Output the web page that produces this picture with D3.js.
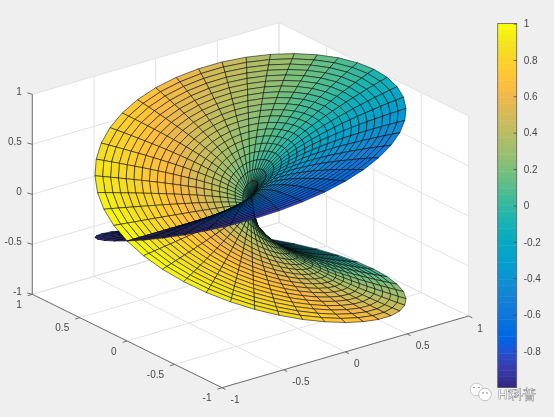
<!DOCTYPE html>
<html>
<head>
<meta charset="utf-8">
<style>
html,body{margin:0;padding:0;background:#efefef;}
svg{display:block;filter:blur(.35px);}
text{font-family:"Liberation Sans",Arial,sans-serif;}
</style>
<script src="https://cdn.jsdelivr.net/npm/d3@7"></script>
</head>
<body>
<script>
// Mesh: 21 rings, 81 spokes over two turns.
const ringRadius = [0,.05,.1,.15,.2,.25,.3,.35,.4,.45,.5,.55,.6,.65,.7,.75,.8,.85,.9,.95,1];
const ringProfile = [0,.224,.316,.387,.447,.5,.548,.592,.632,.671,.707,.742,.775,.806,.837,.866,.894,.922,.949,.975,1];
const spokeAngle = [-360,-351,-342,-333,-324,-315,-306,-297,-288,-279,-270,-261,-252,-243,-234,-225,-216,-207,-198,-189,
  -180,-171,-162,-153,-144,-135,-126,-117,-108,-99,-90,-81,-72,-63,-54,-45,-36,-27,-18,-9,
  0,9,18,27,36,45,54,63,72,81,90,99,108,117,126,135,144,153,162,171,
  180,189,198,207,216,225,234,243,252,261,270,279,288,297,306,315,324,333,342,351,360];
const rimHeight = [-1,-.997,-.988,-.972,-.951,-.924,-.891,-.853,-.809,-.76,-.707,-.649,-.588,-.522,-.454,-.383,-.309,-.233,-.156,-.078,
  0,.078,.156,.233,.309,.383,.454,.522,.588,.649,.707,.76,.809,.853,.891,.924,.951,.972,.988,.997,
  1,.997,.988,.972,.951,.924,.891,.853,.809,.76,.707,.649,.588,.522,.454,.383,.309,.233,.156,.078,
  0,-.078,-.156,-.233,-.309,-.383,-.454,-.522,-.588,-.649,-.707,-.76,-.809,-.853,-.891,-.924,-.951,-.972,-.988,-.997,-1];
const rimColor = [0,-.078,-.156,-.233,-.309,-.383,-.454,-.522,-.588,-.649,-.707,-.76,-.809,-.853,-.891,-.924,-.951,-.972,-.988,-.997,
  -1,-.997,-.988,-.972,-.951,-.924,-.891,-.853,-.809,-.76,-.707,-.649,-.588,-.522,-.454,-.383,-.309,-.233,-.156,-.078,
  0,.078,.156,.233,.309,.383,.454,.522,.588,.649,.707,.76,.809,.853,.891,.924,.951,.972,.988,.997,
  1,.997,.988,.972,.951,.924,.891,.853,.809,.76,.707,.649,.588,.522,.454,.383,.309,.233,.156,.078,0];
const xTicks = [-1,-.5,0,.5,1];
const yTicks = [-1,-.5,0,.5,1];
const zTicks = [-1,-.5,0,.5,1];
const colorbarTicks = [-.8,-.6,-.4,-.2,0,.2,.4,.6,.8,1];
const parula = [[.2081,.1663,.5292],[.2116,.1898,.5777],[.2123,.2138,.627],[.2081,.2386,.6771],[.1959,.2645,.7279],[.1707,.2919,.7792],[.1253,.3242,.8303],[.0591,.3598,.8683],[.0117,.3875,.882],[.006,.4086,.8828],[.0165,.4266,.8786],[.0329,.443,.872],[.0498,.4586,.8641],[.0629,.4737,.8554],[.0723,.4887,.8467],[.0779,.504,.8384],[.0793,.52,.8312],[.0749,.5375,.8263],[.0641,.557,.824],[.0488,.5772,.8228],[.0343,.5966,.8199],[.0265,.6137,.8135],[.0239,.6287,.8038],[.0231,.6418,.7913],[.0228,.6535,.7768],[.0267,.6642,.7607],[.0384,.6743,.7436],[.059,.6838,.7254],[.0843,.6928,.7062],[.1133,.7015,.6859],[.1453,.7098,.6646],[.1801,.7177,.6424],[.2178,.725,.6193],[.2586,.7317,.5954],[.3022,.7376,.5712],[.3482,.7424,.5473],[.3953,.7459,.5244],[.442,.7481,.5033],[.4871,.7491,.484],[.53,.7491,.4661],[.5709,.7485,.4494],[.6099,.7473,.4337],[.6473,.7456,.4188],[.6834,.7435,.4044],[.7184,.7411,.3905],[.7525,.7384,.3768],[.7858,.7356,.3633],[.8185,.7327,.3498],[.8507,.7299,.336],[.8824,.7274,.3217],[.9139,.7258,.3063],[.945,.7261,.2886],[.9739,.7314,.2666],[.9938,.7455,.2403],[.999,.7653,.2164],[.9955,.7861,.1967],[.988,.8066,.1794],[.9789,.8271,.1633],[.9697,.8481,.1475],[.9626,.8705,.1309],[.9589,.8949,.1132],[.9598,.9218,.0948],[.9661,.9514,.0755],[.9763,.9831,.0538]];

const W = 554, H = 417;
const svg = d3.select("body").append("svg").attr("width", W).attr("height", H);
svg.append("rect").attr("width", W).attr("height", H).attr("fill", "#efefef");

const colours = parula.map(c => d3.rgb(c[0]*255, c[1]*255, c[2]*255).formatRgb());
const colourScale = d3.scaleQuantize().domain([-1, 1]).range(colours);

// Fractions along each box axis
const xs = d3.scaleLinear().domain([-1, 1]).range([0, 1]);
const ys = d3.scaleLinear().domain([-1, 1]).range([0, 1]);
const zs = d3.scaleLinear().domain([-1, 1]).range([0, 1]);

// Orthographic view: front-bottom corner, and the screen vector of each axis
const front = [222, 387.7], ex = [246.7, -71.7], ey = [-189.7, -93.4], ez = [0, -200];
function project(x, y, z) {
  const a = xs(x), b = ys(y), c = zs(z);
  return [front[0] + a*ex[0] + b*ey[0] + c*ez[0], front[1] + a*ex[1] + b*ey[1] + c*ez[1]];
}
const path = pts => "M" + pts.map(p => p[0].toFixed(2) + "," + p[1].toFixed(2)).join("L") + "Z";
const line = (a, b) => "M" + a[0].toFixed(2) + "," + a[1].toFixed(2) + "L" + b[0].toFixed(2) + "," + b[1].toFixed(2);
function depth(x, y, z) { return -.565*155.6*x - .735*155.6*y + .378*108*z; }

// White back faces
const gBox = svg.append("g");
gBox.append("path").attr("fill", "#fff").attr("d", path([
  project(-1,1,-1), project(-1,1,1), project(1,1,1), project(1,-1,1), project(1,-1,-1), project(-1,-1,-1)]));

const grid = [];
xTicks.forEach(t => {
  grid.push(line(project(t,-1,-1), project(t,1,-1)));
  grid.push(line(project(t,1,-1), project(t,1,1)));
});
yTicks.forEach(t => {
  grid.push(line(project(-1,t,-1), project(1,t,-1)));
  grid.push(line(project(1,t,-1), project(1,t,1)));
});
zTicks.forEach(t => {
  grid.push(line(project(-1,1,t), project(1,1,t)));
  grid.push(line(project(1,1,t), project(1,-1,t)));
});
gBox.append("path").attr("d", grid.join("")).attr("fill", "none").attr("stroke", "#e2e2e2").attr("stroke-width", 1);

// Axis rulers, ticks, labels
const axisInk = "#626262", labelInk = "#484848";
const rulers = [
  line(project(-1,-1,-1), project(1,-1,-1)),
  line(project(-1,-1,-1), project(-1,1,-1)),
  line(project(-1,1,-1), project(-1,1,1))];
xTicks.forEach(t => { const p = project(t,-1,-1); rulers.push(line(p, [p[0]+3.6, p[1]+1.8])); });
yTicks.forEach(t => { const p = project(-1,t,-1); rulers.push(line(p, [p[0]-4.6, p[1]+1.4])); });
zTicks.forEach(t => { const p = project(-1,1,t); rulers.push(line(p, [p[0]-5, p[1]-1.4])); });
gBox.append("path").attr("d", rulers.join("")).attr("fill", "none").attr("stroke", axisInk).attr("stroke-width", .9);

const fmt = v => String(v);
const tickFont = 10;
gBox.selectAll(".xl").data(xTicks).join("text").attr("class","xl")
  .attr("x", t => project(t,-1,-1)[0] + 8.6).attr("y", t => project(t,-1,-1)[1] + 15.5)
  .attr("text-anchor","start").attr("font-size",tickFont).attr("fill",labelInk).text(fmt);
gBox.selectAll(".yl").data(yTicks).join("text").attr("class","yl")
  .attr("x", t => project(-1,t,-1)[0] - 10.5).attr("y", t => project(-1,t,-1)[1] + 13.7)
  .attr("text-anchor","end").attr("font-size",tickFont).attr("fill",labelInk).text(fmt);
gBox.selectAll(".zl").data(zTicks).join("text").attr("class","zl")
  .attr("x", t => project(-1,1,t)[0] - 10.5).attr("y", t => project(-1,1,t)[1] + .6)
  .attr("text-anchor","end").attr("font-size",tickFont).attr("fill",labelInk).text(fmt);

// Surface: one facet per cell, flat colour from its first vertex, painted back to front
const facets = [];
const vx = (i,j) => {
  const a = spokeAngle[j] * Math.PI / 180;
  return [ringRadius[i]*Math.cos(a), ringRadius[i]*Math.sin(a), ringProfile[i]*rimHeight[j]];
};
for (let i = 0; i < ringRadius.length - 1; i++) {
  for (let j = 0; j < spokeAngle.length - 1; j++) {
    const corners = [vx(i,j), vx(i+1,j), vx(i+1,j+1), vx(i,j+1)];
    facets.push({
      pts: corners.map(c => project(c[0], c[1], c[2])),
      d: d3.mean(corners, c => depth(c[0], c[1], c[2])),
      c: ringProfile[i]*rimColor[j]
    });
  }
}
facets.sort((a,b) => a.d - b.d);
svg.append("g").selectAll("path").data(facets).join("path")
  .attr("d", f => path(f.pts))
  .attr("fill", f => colourScale(f.c))
  .attr("stroke", "#000").attr("stroke-width", .6).attr("stroke-opacity", .9)
  .attr("stroke-linejoin", "round");

// Colorbar
const barX = 497.7, barW = 19;
const barScale = d3.scaleLinear().domain([-1, 1]).range([387.5, 23.5]);
const gBar = svg.append("g");
gBar.selectAll("rect").data(colours).join("rect")
  .attr("x", barX).attr("width", barW)
  .attr("y", (c,i) => barScale(-1 + 2*(i+1)/colours.length))
  .attr("height", (barScale(-1) - barScale(1)) / colours.length + .4)
  .attr("fill", c => c);
gBar.append("rect").attr("x", barX).attr("y", barScale(1)).attr("width", barW)
  .attr("height", barScale(-1)-barScale(1)).attr("fill","none").attr("stroke","#5f5f5f").attr("stroke-width",.8);
const barAxis = d3.axisRight(barScale).tickValues(colorbarTicks).tickSize(-3).tickPadding(7).tickFormat(fmt);
const gAxis = gBar.append("g").attr("transform", `translate(${barX+barW},0)`).call(barAxis);
gAxis.select(".domain").remove();
gAxis.selectAll("line").attr("stroke","#444").attr("stroke-width",.8);
gAxis.selectAll("text").attr("font-size",tickFont).attr("fill",labelInk).attr("font-family","Liberation Sans");

// Watermark
const gMark = svg.append("g");
gMark.append("circle").attr("cx",476.5).attr("cy",389.5).attr("r",6.3).attr("fill","#fff").attr("stroke","#aaa").attr("stroke-width",.6);
gMark.append("circle").attr("cx",485).attr("cy",394.5).attr("r",6.3).attr("fill","#fff").attr("stroke","#999").attr("stroke-width",.6);
gMark.selectAll(".eye").data([[474,387.5],[479,387.5],[483,393],[487,393]]).join("circle").attr("class","eye")
  .attr("cx",d=>d[0]).attr("cy",d=>d[1]).attr("r",.8).attr("fill","#777");
gMark.append("text").attr("x",498).attr("y",398.5).attr("font-size",13)
  .attr("fill","#f4f4f4").attr("stroke","#666").attr("stroke-width",.7).attr("paint-order","stroke")
  .attr("font-family","'Liberation Sans','Noto Sans CJK SC',sans-serif").text("Hi科普");
</script>
</body>
</html>
